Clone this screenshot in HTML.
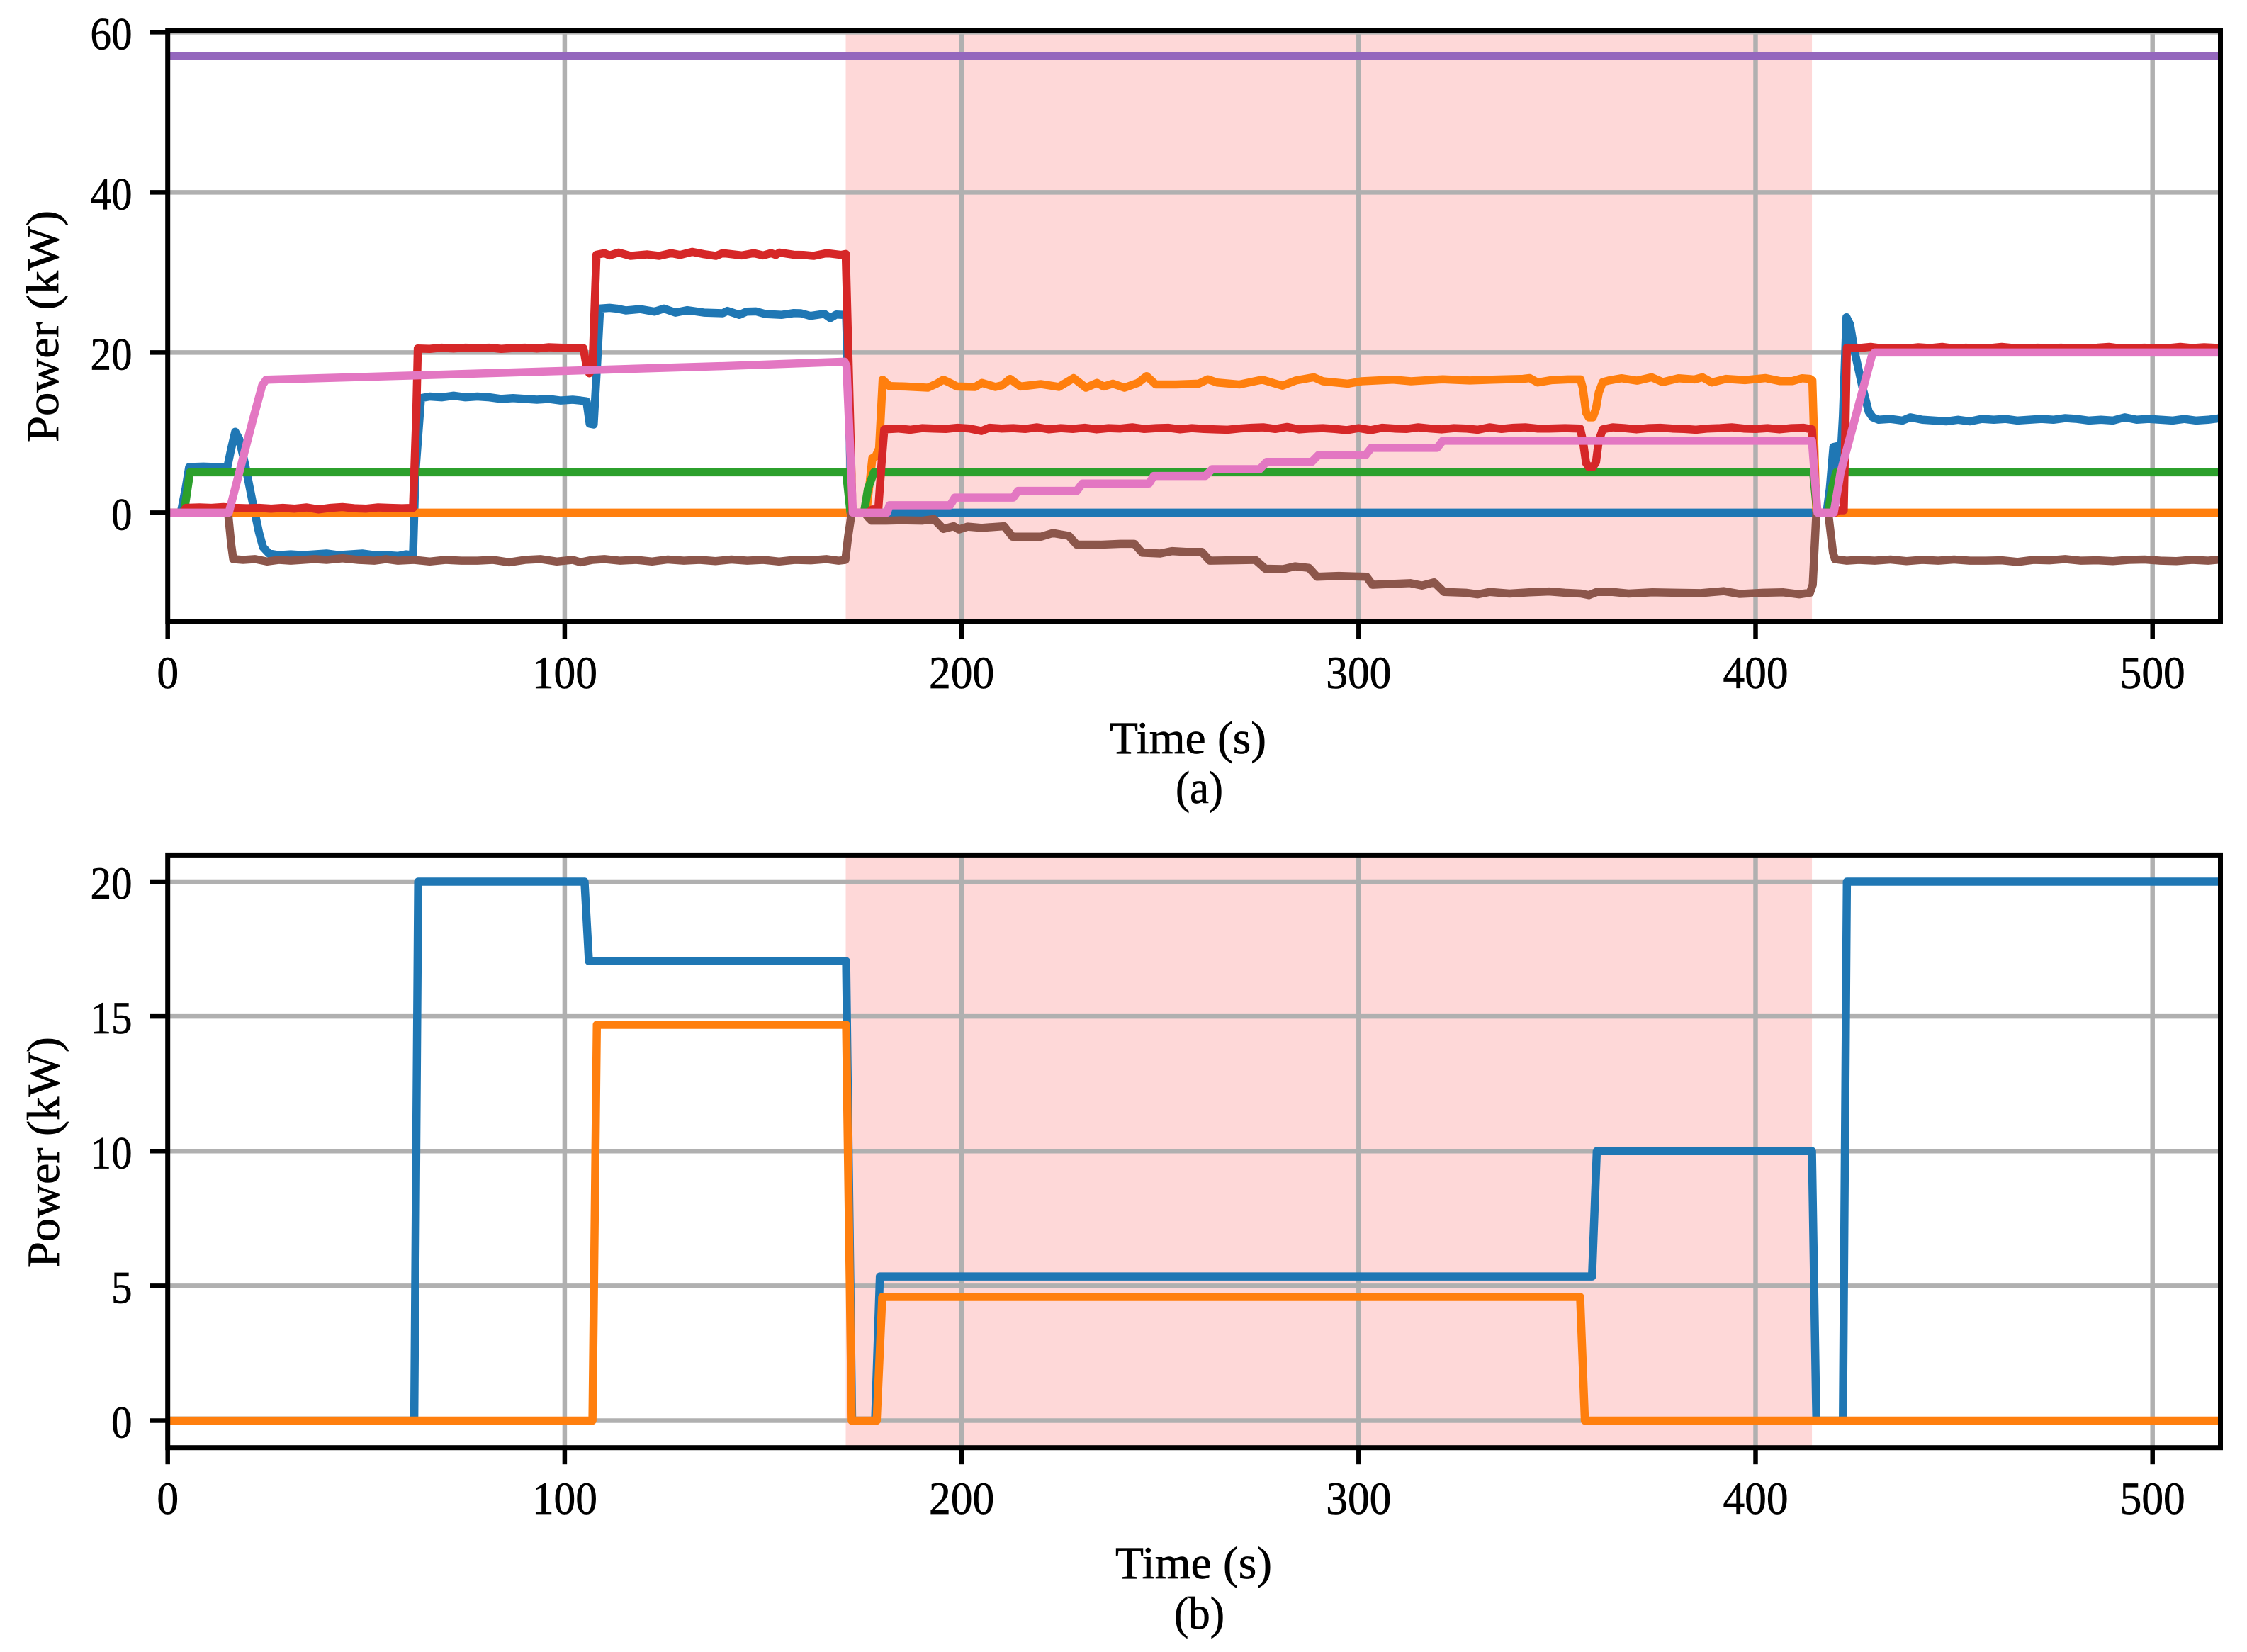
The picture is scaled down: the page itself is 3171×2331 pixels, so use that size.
<!DOCTYPE html>
<html lang="en">
<head>
<meta charset="utf-8">
<title>Power over time</title>
<style>
html,body{margin:0;padding:0;background:#fff;}
svg{display:block;}
text{font-family:"Liberation Serif",serif;fill:#000;stroke:#000;stroke-width:0.7px;font-size:65px;}
</style>
</head>
<body>
<svg id="figure" xmlns="http://www.w3.org/2000/svg" width="3171" height="2331" viewBox="0 0 3171 2331">
  <rect x="0" y="0" width="3171" height="2331" fill="#fff"/>
  <defs>
    <clipPath id="clip-a"><rect x="236.7" y="42.5" width="2896.8" height="835"/></clipPath>
    <clipPath id="clip-b"><rect x="236.7" y="1206.4" width="2896.8" height="836.3"/></clipPath>
  </defs>
  <g id="panel-a"></g>
  <g id="panel-b"></g>
  <text x="1676.5" y="1063" text-anchor="middle" textLength="221" lengthAdjust="spacingAndGlyphs">Time (s)</text>
  <text x="1692.5" y="1133" text-anchor="middle" textLength="67" lengthAdjust="spacingAndGlyphs">(a)</text>
  <text x="1684.5" y="2227" text-anchor="middle" textLength="221" lengthAdjust="spacingAndGlyphs">Time (s)</text>
  <text x="1692.5" y="2298" text-anchor="middle" textLength="71" lengthAdjust="spacingAndGlyphs">(b)</text>
  <text transform="translate(82 460.5) rotate(-90)" text-anchor="middle" textLength="327" lengthAdjust="spacingAndGlyphs">Power (kW)</text>
  <text transform="translate(83 1626) rotate(-90)" text-anchor="middle" textLength="326" lengthAdjust="spacingAndGlyphs">Power (kW)</text>
</svg>
<script>
// Shared axis data
const timeDomain = [0, 517.1];
const timeTicks = [0, 100, 200, 300, 400, 500];
const shadedSpan = [170.8, 414.2];
const panelAYDomain = [-13.64, 60.25];
const panelAYTicks = [0, 20, 40, 60];
const panelBYDomain = [-1.005, 20.99];
const panelBYTicks = [0, 5, 10, 15, 20];

// Panel (a) series: [time s, power kW]
const aBlue = [[0,0],[3.3,0],[4.5,3],[5.4,5.7],[9,5.75],[12,5.7],[15,5.65],[16,8],[17,10.1],[18,9.2],[19.5,6],[21.5,1],[23,-2.5],[24,-4.3],[25.5,-5.1],[28,-5.3],[31,-5.2],[34,-5.3],[37,-5.2],[40,-5.1],[43,-5.3],[46,-5.2],[49,-5.1],[52,-5.3],[55,-5.3],[58,-5.4],[60,-5.2],[61.8,-5.3],[62.4,5],[63.8,14.3],[66,14.5],[69,14.4],[72,14.6],[75,14.4],[78,14.5],[81,14.4],[84,14.2],[87,14.3],[90,14.2],[93,14.1],[96,14.2],[99,14],[102,14.1],[104,14],[105.5,13.9],[106.3,11.1],[107.3,11],[108.1,18],[108.9,25.48],[111.3,25.57],[113.1,25.48],[115.4,25.25],[119,25.42],[122.6,25.1],[125,25.48],[127.9,24.98],[130.9,25.28],[135.1,24.98],[139.8,24.9],[141,25.19],[144,24.7],[145.8,25.1],[148.2,25.13],[150.6,24.8],[154.7,24.7],[157.7,24.92],[159.5,24.9],[161.9,24.57],[165.4,24.83],[166.9,24.3],[168.4,24.74],[170.2,24.7],[170.9,24.6],[172.3,0],[417.9,0],[418.7,3],[419.6,8.2],[420.6,8.3],[421.2,5],[422,12],[422.9,24.4],[423.8,23.5],[425,20],[427,15.5],[428.5,12.6],[429.5,11.9],[431,11.6],[434,11.7],[437,11.5],[439,11.9],[442,11.6],[445,11.5],[448,11.4],[451,11.6],[454,11.4],[457,11.7],[460,11.6],[463,11.7],[466,11.5],[469,11.6],[472,11.7],[475,11.6],[478,11.8],[481,11.7],[484,11.5],[487,11.6],[490,11.5],[493,11.9],[496,11.6],[499,11.7],[502,11.6],[505,11.5],[508,11.7],[511,11.5],[514,11.6],[517.1,11.8]];

const aOrange = [[0,0],[172,0],[176,0],[177.5,6.8],[178.3,7],[179.2,8],[180.1,16.6],[181.8,15.8],[185.8,15.75],[191.5,15.6],[193.7,16.1],[195.4,16.6],[197.1,16.2],[198.8,15.75],[203.4,15.7],[205.1,16.2],[208.5,15.7],[210.2,15.9],[212.2,16.7],[214.8,15.75],[219.9,16.05],[224.5,15.7],[228.2,16.8],[231.3,15.6],[234.1,16.2],[235.8,15.75],[238.1,16.1],[241,15.6],[244.4,16.2],[246.6,17.05],[248.9,16],[254,16],[259.7,16.1],[262,16.65],[264.3,16.25],[270,16],[275.7,16.6],[280.8,15.85],[284.2,16.5],[288.7,16.9],[291,16.4],[297.3,16.1],[300.7,16.4],[308.7,16.6],[313.2,16.4],[321.2,16.65],[328,16.5],[333.7,16.6],[341.4,16.7],[343.1,16.8],[345.1,16.25],[348.7,16.55],[352.7,16.63],[355.9,16.63],[356.5,15.5],[357.3,12.5],[358,11.9],[359,11.9],[359.8,13],[360.5,15],[361.5,16.3],[363,16.5],[366.2,16.78],[370.2,16.48],[373.8,16.9],[376.6,16.3],[380.6,16.78],[384.6,16.63],[386.6,16.9],[389,16.25],[392.5,16.7],[397.3,16.55],[402.5,16.8],[406.1,16.43],[409.3,16.43],[411.7,16.78],[413.7,16.7],[414.3,16.5],[415.3,0],[517.1,0]];

const aGreen = [[0,0],[4,0],[4.4,1],[5.6,5.04],[170.9,5.04],[172,0],[175.4,0],[176.4,3],[177.9,5.04],[414.5,5.04],[415.5,0],[418.3,0],[419.2,3],[420.3,5.04],[517.1,5.04]];

const aRed = [[0,0],[3.8,0],[4.6,0.6],[8,0.65],[11,0.6],[14,0.7],[17,0.6],[20,0.55],[23,0.6],[26,0.5],[29,0.6],[32,0.5],[35,0.65],[38,0.4],[41,0.6],[44,0.7],[47,0.55],[50,0.5],[53,0.65],[56,0.6],[59,0.55],[61.8,0.6],[62.6,12],[63,20.5],[66,20.45],[69,20.6],[72,20.5],[75,20.6],[78,20.55],[81,20.6],[84,20.45],[87,20.55],[90,20.6],[93,20.5],[96,20.65],[99,20.6],[102,20.55],[104.7,20.55],[105.6,18],[106.2,17.4],[107,18],[107.7,28],[108,32.2],[110,32.4],[111.3,32.12],[113.6,32.47],[116.6,32.06],[120.8,32.24],[123.8,32.06],[126.8,32.4],[129.1,32.18],[132.1,32.56],[135.1,32.27],[138.1,32.06],[139.8,32.4],[144.6,32.12],[147.6,32.4],[150,32.12],[152,32.4],[153.2,32.18],[154.1,32.47],[157.7,32.2],[160.1,32.18],[162.7,32.06],[166,32.4],[169.6,32.18],[170.8,32.3],[172.5,0],[176.5,0],[177.5,0.4],[179,0.4],[179.8,6],[180.5,10.4],[184,10.5],[187,10.35],[190,10.55],[193,10.5],[196,10.45],[199,10.6],[202,10.5],[205,10.2],[207,10.6],[210,10.5],[213,10.55],[216,10.45],[219,10.65],[222,10.4],[225,10.55],[228,10.45],[231,10.6],[234,10.4],[237,10.55],[240,10.5],[243,10.65],[246,10.45],[249,10.55],[252,10.6],[255,10.4],[258,10.55],[261,10.45],[264,10.4],[267,10.35],[270,10.5],[273,10.6],[276,10.65],[279,10.45],[282,10.7],[285,10.4],[288,10.5],[291,10.55],[294,10.45],[297,10.3],[300,10.55],[303,10.3],[306,10.6],[309,10.5],[312,10.45],[315,10.65],[318,10.5],[321,10.4],[324,10.55],[327,10.5],[330,10.35],[333,10.65],[336,10.45],[339,10.6],[342,10.65],[345,10.5],[348,10.5],[352,10.55],[355.8,10.5],[356.5,9],[357.3,6.2],[358,5.7],[359,5.7],[359.8,6.3],[360.5,9],[361.5,10.4],[364,10.65],[367,10.55],[370,10.4],[373,10.55],[376,10.6],[379,10.5],[382,10.45],[385,10.35],[388,10.5],[391,10.55],[394,10.65],[397,10.5],[400,10.45],[403,10.55],[406,10.4],[409,10.55],[412,10.6],[414.2,10.4],[415.5,0],[420,0],[421,0.3],[422.2,0.3],[422.6,10],[423,20.6],[426,20.55],[429,20.7],[432,20.5],[435,20.55],[438,20.5],[441,20.65],[444,20.55],[447,20.7],[450,20.5],[453,20.6],[456,20.5],[459,20.55],[462,20.7],[465,20.55],[468,20.5],[471,20.6],[474,20.55],[477,20.6],[480,20.5],[483,20.55],[486,20.6],[489,20.7],[492,20.5],[495,20.55],[498,20.6],[501,20.5],[504,20.55],[507,20.7],[510,20.55],[513,20.65],[517.1,20.55]];

const aPurple = [[0,57],[517.1,57]];

const aBrown = [[0,0],[15.2,0],[16,-4],[16.5,-5.8],[19,-5.9],[22,-5.8],[25,-6.1],[28,-5.9],[31,-6],[34,-5.9],[37,-5.8],[40,-5.9],[44,-5.7],[48,-5.9],[52,-6],[55,-5.8],[58,-6],[62,-5.9],[66,-6.1],[70,-5.9],[74,-6],[78,-6],[82,-5.9],[86,-6.2],[90,-5.9],[94,-5.8],[98,-6.1],[102,-5.9],[104,-6.2],[107,-5.9],[110,-5.8],[114,-6],[118,-5.9],[122,-6.1],[126,-5.85],[130,-6],[134,-5.9],[138,-6.05],[142,-5.85],[146,-6],[150,-5.9],[154,-6.1],[158,-5.9],[162,-5.95],[166,-5.8],[169,-6],[170.7,-5.9],[171.4,-3],[172.3,0],[175.5,0],[176.5,-0.6],[177.3,-1],[181,-1],[185,-0.95],[190,-1],[193,-0.8],[195.4,-2.03],[198,-1.7],[199.3,-2.1],[201.5,-1.75],[205,-1.9],[210.7,-1.7],[212.8,-3],[220,-3],[223,-2.55],[227,-2.9],[229,-4],[235,-4],[240,-3.9],[243.5,-3.9],[245.5,-5],[250,-5.1],[253,-4.8],[256.5,-4.9],[260.5,-4.9],[262.5,-6],[268,-5.95],[274,-5.9],[276.5,-7],[281,-7.05],[284,-6.7],[287.5,-6.9],[289.5,-8],[295,-7.9],[302,-8],[303.5,-9],[308,-8.9],[313,-8.8],[316,-9.1],[319,-8.7],[321.5,-9.9],[327,-10],[330,-10.2],[333,-9.9],[338,-10.1],[343,-9.95],[348,-9.85],[352,-10],[356,-10.1],[358,-10.3],[360,-9.9],[364,-9.9],[368,-10.1],[374,-9.95],[380,-10],[386,-10.05],[392,-9.8],[396,-10.15],[402,-10],[407,-9.95],[411,-10.2],[413.7,-10],[414.4,-9],[415.3,0],[418.3,0],[419.5,-5],[420,-5.8],[423,-6],[426,-5.9],[430,-6],[434,-5.85],[438,-6.05],[442,-5.9],[446,-6],[450,-5.85],[454,-6],[458,-6],[462,-5.95],[466,-6.15],[470,-5.9],[474,-5.95],[478,-5.8],[482,-6],[486,-5.95],[490,-6.05],[494,-5.9],[498,-5.85],[502,-6],[506,-6.05],[510,-5.9],[514,-6],[517.1,-5.85]];

const aPink = [[0,0],[15.4,0],[21.4,11.5],[23.8,15.9],[24.8,16.6],[60,17.1],[100,17.7],[140,18.3],[170.5,18.85],[171,18.3],[172.6,0],[181.2,0],[181.8,0.93],[197.1,0.93],[198.3,1.88],[213,1.88],[214.2,2.72],[229,2.72],[230.4,3.64],[247.2,3.64],[248.4,4.58],[261.4,4.58],[263.1,5.43],[275.1,5.43],[276.8,6.34],[288.2,6.34],[289.9,7.2],[301.8,7.2],[303.2,8.1],[319.8,8.1],[321.2,8.98],[414.2,8.98],[415.6,0],[419.7,0],[421.4,5],[429.3,19.6],[430,20],[517.1,20]];

// Panel (b) series: [time s, power kW]
const bBlue = [[0,0],[62.1,0],[63.1,20],[105,20],[106.1,17.05],[170.9,17.05],[172.4,0],[178.2,0],[179.4,5.35],[358.8,5.35],[360,10],[414.2,10],[415.3,0],[422,0],[423,20],[517.1,20]];
const bOrange = [[0,0],[107,0],[108.1,14.69],[170.9,14.69],[172.3,0],[178.6,0],[180,4.59],[355.8,4.59],[357,0],[517.1,0]];

// Series order and styles
const panelASeries = [
  ['blue', aBlue, '#1f77b4'], ['orange', aOrange, '#ff7f0e'], ['green', aGreen, '#2ca02c'],
  ['red', aRed, '#d62728'], ['purple', aPurple, '#9467bd'], ['brown', aBrown, '#8c564b'], ['pink', aPink, '#e377c2']
];
const panelBSeries = [['blue', bBlue, '#1f77b4'], ['orange', bOrange, '#ff7f0e']];

const SVGNS = 'http://www.w3.org/2000/svg';
const plotLeft = 236.7, plotRight = 3133.5;
const xScale = t => plotLeft + (t - timeDomain[0]) / (timeDomain[1] - timeDomain[0]) * (plotRight - plotLeft);
const makeYScale = (domain, top, bottom) => v => bottom - (v - domain[0]) / (domain[1] - domain[0]) * (bottom - top);

function shape(parent, tag, attrs) {
  const el = document.createElementNS(SVGNS, tag);
  for (const k in attrs) el.setAttribute(k, attrs[k]);
  parent.appendChild(el);
  return el;
}

function drawPanel(id, top, bottom, yDomain, yTicks, series, clipId) {
  const g = document.getElementById(id);
  const y = makeYScale(yDomain, top, bottom);

  const span = shape(g, 'rect', {x: xScale(shadedSpan[0]), y: top, width: xScale(shadedSpan[1]) - xScale(shadedSpan[0]), height: bottom - top, fill: '#fed8d8'});
  
  

  timeTicks.forEach(t => {
    const line = shape(g, 'line', {x1: xScale(t), x2: xScale(t), y1: top, y2: bottom, stroke: '#b0b0b0', 'stroke-width': 6.5});
    
    
  });
  yTicks.forEach(v => {
    const line = shape(g, 'line', {x1: plotLeft, x2: plotRight, y1: y(v), y2: y(v), stroke: '#b0b0b0', 'stroke-width': 6.5});
    
    
  });

  series.forEach(s => {
    const d = s[1].map((p, i) => (i ? 'L' : 'M') + xScale(p[0]).toFixed(2) + ' ' + y(p[1]).toFixed(2)).join('');
    const path = shape(g, 'path', {d: d, fill: 'none', stroke: s[2], 'stroke-width': 11.5, 'stroke-linejoin': 'round', 'stroke-linecap': 'butt', 'clip-path': 'url(#' + clipId + ')'});
    
    
  });

  const frame = shape(g, 'rect', {x: plotLeft, y: top, width: plotRight - plotLeft, height: bottom - top, fill: 'none', stroke: '#000', 'stroke-width': 7});
  
  

  timeTicks.forEach(t => {
    const tick = shape(g, 'line', {x1: xScale(t), x2: xScale(t), y1: bottom, y2: bottom + 23.5, stroke: '#000', 'stroke-width': 6.5});
    
    
    const label = String(t);
    const txt = shape(g, 'text', {x: xScale(t), y: bottom + 93.3, 'text-anchor': 'middle', textLength: 30.7 * label.length, lengthAdjust: 'spacingAndGlyphs'});
    
    
    txt.textContent = label;
  });
  yTicks.forEach(v => {
    const tick = shape(g, 'line', {x1: 212, x2: plotLeft, y1: y(v), y2: y(v), stroke: '#000', 'stroke-width': 6.5});
    
    
    const label = String(v);
    const txt = shape(g, 'text', {x: 186.5, y: y(v) + 24, 'text-anchor': 'end', textLength: 29.5 * label.length, lengthAdjust: 'spacingAndGlyphs'});
    
    
    txt.textContent = label;
  });
}

drawPanel('panel-a', 42.5, 877.5, panelAYDomain, panelAYTicks, panelASeries, 'clip-a');
drawPanel('panel-b', 1206.4, 2042.7, panelBYDomain, panelBYTicks, panelBSeries, 'clip-b');
</script>
</body>
</html>
